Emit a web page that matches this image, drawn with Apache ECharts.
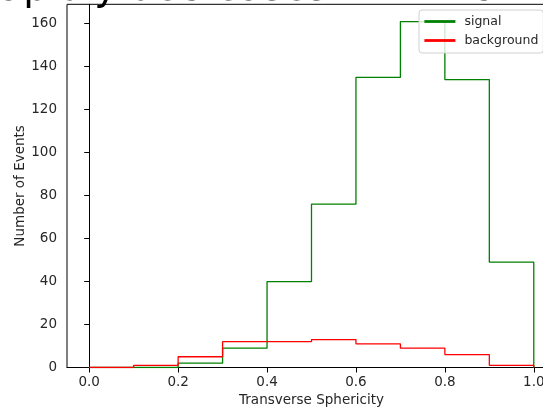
<!DOCTYPE html>
<html>
<head>
<meta charset="utf-8">
<script src="https://cdn.jsdelivr.net/npm/echarts@6/dist/echarts.min.js"></script>
<style>html,body{margin:0;padding:0;background:#fff}#c{width:543px;height:409px}</style>
</head>
<body>
<div id="c"></div>
<script>
var binEdges = [0.0, 0.1, 0.2, 0.3, 0.4, 0.5, 0.6, 0.7, 0.8, 0.9, 1.0];
var signalCounts = [0, 0, 2, 9, 40, 76, 135, 161, 134, 49];
var backgroundCounts = [0, 1, 5, 12, 12, 13, 11, 9, 6, 1];
var xTicks = [0.0, 0.2, 0.4, 0.6, 0.8, 1.0];
var yTicks = [0, 20, 40, 60, 80, 100, 120, 140, 160];
var seriesNames = ['signal', 'background'];
var titleText = 'Rapidly decreases with incr. x, y';

function stepPoints(edges, counts) {
  var pts = [[edges[0], 0]];
  counts.forEach(function (c, i) {
    pts.push([edges[i], c]);
    pts.push([edges[i + 1], c]);
  });
  pts.push([edges[edges.length - 1], 0]);
  return pts;
}

var FONT = 'DejaVu Sans';
var chart = echarts.init(document.getElementById('c'), null, {renderer: 'canvas'});
var maxCount = Math.max.apply(null, signalCounts.concat(backgroundCounts));

chart.setOption({
  animation: false,
  backgroundColor: '#fff',
  textStyle: {fontFamily: FONT},
  grid: {left: 67, right: -13, top: 4.3, bottom: 41.5, show: true, borderColor: '#000', borderWidth: 1, outerBoundsMode: 'none', containLabel: false},
  xAxis: {
    type: 'value', min: -0.05, max: 1.05,
    name: 'Transverse Sphericity', nameLocation: 'middle', nameGap: 26, nameMoveOverlap: false,
    nameTextStyle: {fontFamily: FONT, fontSize: 13.5, color: '#262626'},
    axisLine: {show: true, onZero: false, lineStyle: {color: '#000', width: 1}},
    axisTick: {show: true, customValues: xTicks, length: 5, inside: false, lineStyle: {color: '#000'}},
    axisLabel: {customValues: xTicks, formatter: function (v) { return v.toFixed(1); }, fontFamily: FONT, fontSize: 13.5, color: '#262626', margin: 8},
    splitLine: {show: false}
  },
  yAxis: {
    type: 'value', min: 0, max: maxCount * 1.05,
    name: 'Number of Events', nameLocation: 'middle', nameGap: 40, nameRotate: 90, nameMoveOverlap: false,
    nameTextStyle: {fontFamily: FONT, fontSize: 13.5, color: '#262626'},
    axisLine: {show: true, lineStyle: {color: '#000', width: 1}},
    axisTick: {show: true, customValues: yTicks, length: 5, lineStyle: {color: '#000'}},
    axisLabel: {customValues: yTicks, fontFamily: FONT, fontSize: 13.5, color: '#262626', margin: 10},
    splitLine: {show: false}
  },
  legend: {
    show: true,
    orient: 'vertical', left: 419, top: 10,
    padding: [5, 5, 6, 4], itemWidth: 31, itemHeight: 14, itemGap: 6,
    backgroundColor: 'rgba(255,255,255,0.8)', borderColor: '#d0d0d0', borderWidth: 1, borderRadius: 3,
    textStyle: {fontFamily: FONT, fontSize: 12.5, color: '#262626', padding: [0, 0, 0, 4]},
    lineStyle: {width: 2.8},
    itemStyle: {opacity: 0},
    data: seriesNames
  },
  series: [
    {name: seriesNames[0], type: 'line', data: stepPoints(binEdges, signalCounts), showSymbol: false, symbol: 'none', lineStyle: {color: 'green', width: 1.3}, itemStyle: {color: 'green'}, z: 2},
    {name: seriesNames[1], type: 'line', data: stepPoints(binEdges, backgroundCounts), showSymbol: false, symbol: 'none', lineStyle: {color: 'red', width: 1.3}, itemStyle: {color: 'red'}, z: 3}
  ],
  graphic: [{
    type: 'text', left: -27, top: -29.8, z: 100,
    style: {text: titleText, font: '39px "DejaVu Sans"', fill: '#000'}
  }]
});
</script>
</body>
</html>
